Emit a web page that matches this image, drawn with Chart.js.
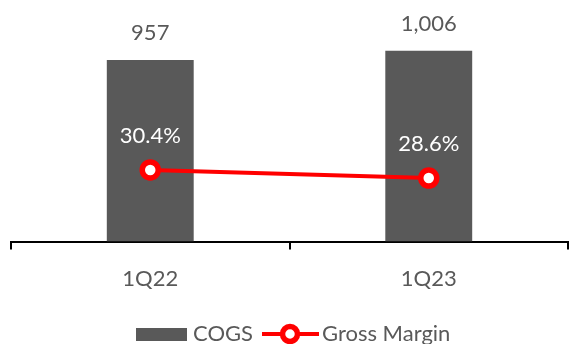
<!DOCTYPE html>
<html>
<head>
<meta charset="utf-8">
<script src="https://cdn.jsdelivr.net/npm/chart.js@4.4.1/dist/chart.umd.min.js"></script>
<style>
  html, body { margin: 0; padding: 0; background: #ffffff; }
  #wrap { width: 570px; height: 344px; }
</style>
</head>
<body>
<div id="wrap"><canvas id="chart" width="570" height="344"></canvas></div>
<script>
// Quarterly cost of goods sold and gross margin
const categories = ['1Q22', '1Q23'];
const cogs = [957, 1006];
const grossMargin = [30.4, 28.6];
const seriesNames = ['COGS', 'Gross Margin'];

const GREY = '#595959';
const RED = '#ff0000';
const FONT = 'Lato, "Open Sans", sans-serif';

// Value labels: numbers above the bars, white percentages above the line points
const valueLabels = {
  id: 'valueLabels',
  afterDatasetsDraw(chart) {
    const ctx = chart.ctx;
    ctx.save();
    ctx.textAlign = 'center';
    ctx.textBaseline = 'middle';
    ctx.font = '22px ' + FONT;

    const barMeta = chart.getDatasetMeta(0);
    barMeta.data.forEach((bar, i) => {
      ctx.fillStyle = GREY;
      ctx.fillText(cogs[i].toLocaleString('en-US'), bar.x, bar.y - 27);
    });

    const lineMeta = chart.getDatasetMeta(1);
    lineMeta.data.forEach((pt, i) => {
      ctx.fillStyle = '#ffffff';
      ctx.fillText(grossMargin[i].toFixed(1) + '%', pt.x, pt.y - 34);
    });
    ctx.restore();
  }
};

// Legend row at the bottom: grey swatch, then a line sample with a ring marker
const legendRow = {
  id: 'legendRow',
  afterDraw(chart) {
    const ctx = chart.ctx;
    const ds = chart.data.datasets;
    const cy = 334;
    let x = 136;
    ctx.save();
    ctx.font = '22px ' + FONT;
    ctx.textBaseline = 'middle';
    ctx.textAlign = 'left';

    // bar swatch
    ctx.fillStyle = ds[0].backgroundColor;
    ctx.fillRect(x, cy - 6, 51, 13);
    x += 51 + 6;
    ctx.fillStyle = GREY;
    ctx.fillText(ds[0].label, x, cy);
    x += ctx.measureText(ds[0].label).width + 9;

    // line swatch
    ctx.strokeStyle = ds[1].borderColor;
    ctx.lineWidth = 4;
    ctx.beginPath();
    ctx.moveTo(x, cy);
    ctx.lineTo(x + 57, cy);
    ctx.stroke();
    ctx.beginPath();
    ctx.arc(x + 28, cy, 7.5, 0, Math.PI * 2);
    ctx.fillStyle = '#ffffff';
    ctx.fill();
    ctx.lineWidth = 5.5;
    ctx.stroke();
    x += 57 + 3;
    ctx.fillStyle = GREY;
    ctx.fillText(ds[1].label, x, cy);
    ctx.restore();
  }
};

new Chart(document.getElementById('chart'), {
  type: 'bar',
  data: {
    labels: categories,
    datasets: [
      {
        type: 'bar',
        label: seriesNames[0],
        data: cogs,
        backgroundColor: GREY,
        categoryPercentage: 1,
        barPercentage: 0.312,
        yAxisID: 'y',
        order: 2
      },
      {
        type: 'line',
        label: seriesNames[1],
        data: grossMargin,
        borderColor: RED,
        borderWidth: 4,
        pointRadius: 8,
        pointHoverRadius: 8,
        pointBorderWidth: 5.5,
        pointBackgroundColor: '#ffffff',
        pointBorderColor: RED,
        tension: 0,
        yAxisID: 'y2',
        order: 1
      }
    ]
  },
  options: {
    responsive: false,
    animation: false,
    devicePixelRatio: 1,
    layout: { autoPadding: false, padding: { left: 11, right: 2, top: 14, bottom: 36 } },
    plugins: {
      legend: { display: false },
      tooltip: { enabled: false }
    },
    scales: {
      x: {
        offset: true,
        grid: {
          offset: true,
          drawOnChartArea: false,
          drawTicks: true,
          tickLength: 8,
          color: '#000000',
          lineWidth: 2
        },
        border: { display: true, color: '#000000', width: 2 },
        ticks: {
          color: GREY,
          padding: 16,
          font: { family: FONT, size: 22 }
        }
      },
      y: {
        display: false,
        min: 0,
        max: 1200
      },
      y2: {
        display: false,
        position: 'right',
        min: 14.5,
        max: 65
      }
    }
  },
  plugins: [valueLabels, legendRow]
});
</script>
</body>
</html>
